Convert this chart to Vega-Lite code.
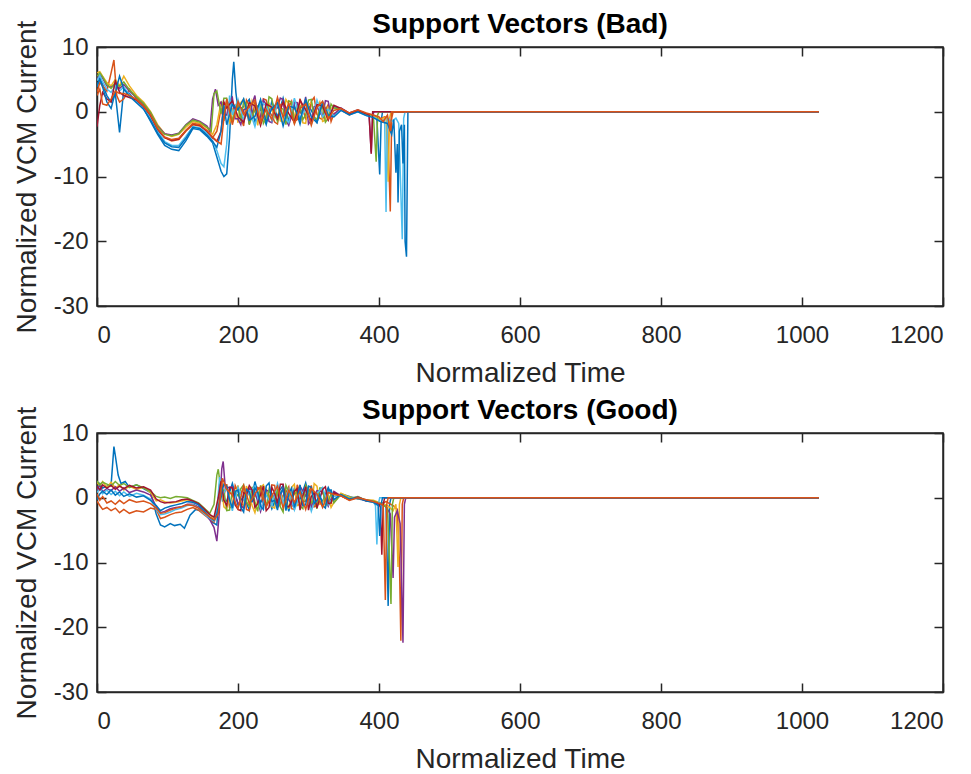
{
"$schema":"https://vega.github.io/schema/vega-lite/v6.json",
"padding":{"left":12,"top":10,"right":4,"bottom":0},
"spacing":8,
"config":{
"view":{"stroke":"#262626","strokeWidth":1.5},
"axis":{"domainColor":"#262626","domainWidth":1.5,"tickColor":"#262626","tickWidth":1.5,"tickSize":-9,"labelColor":"#262626","labelFont":"Liberation Sans","labelFontSize":24,"titleFont":"Liberation Sans","titleFontSize":28,"titleFontWeight":"normal","titleColor":"#262626","grid":false,"labelExpr":"'' + datum.value"}
},
"datasets":{
"bad":[
{"s":1,"x":0,"y":3.8},{"s":1,"x":4,"y":5.2},{"s":1,"x":8,"y":4.2},{"s":1,"x":14,"y":2.5},{"s":1,"x":20,"y":1.5},{"s":1,"x":26,"y":2.8},{"s":1,"x":32,"y":-3.2},{"s":1,"x":38,"y":3.5},{"s":1,"x":46,"y":2.8},{"s":1,"x":56,"y":1.5},{"s":1,"x":66,"y":0.5},{"s":1,"x":76,"y":-1.5},{"s":1,"x":86,"y":-3.5},{"s":1,"x":96,"y":-5.2},{"s":1,"x":106,"y":-5.8},{"s":1,"x":116,"y":-6},{"s":1,"x":126,"y":-4.5},{"s":1,"x":136,"y":-2.6},{"s":1,"x":146,"y":-2.8},{"s":1,"x":156,"y":-3.8},{"s":1,"x":164,"y":-4.8},{"s":1,"x":170,"y":-7},{"s":1,"x":176,"y":-9.2},{"s":1,"x":180,"y":-10},{"s":1,"x":184,"y":-9.6},{"s":1,"x":188,"y":-4},{"s":1,"x":192,"y":5},{"s":1,"x":194,"y":7.7},{"s":1,"x":197,"y":3},{"s":1,"x":200,"y":0.3},{"s":1,"x":208,"y":0.8},{"s":1,"x":216,"y":1.9},{"s":1,"x":224,"y":-1.5},{"s":1,"x":232,"y":0.5},{"s":1,"x":240,"y":-2.0},{"s":1,"x":248,"y":1.6},{"s":1,"x":256,"y":-0.8},{"s":1,"x":264,"y":2.1},{"s":1,"x":272,"y":-1.4},{"s":1,"x":280,"y":1.0},{"s":1,"x":288,"y":-1.9},{"s":1,"x":296,"y":1.7},{"s":1,"x":304,"y":0.2},{"s":1,"x":312,"y":-1.6},{"s":1,"x":320,"y":1.3},{"s":1,"x":328,"y":-0.9},{"s":1,"x":336,"y":0.8},{"s":1,"x":346,"y":0.4},{"s":1,"x":358,"y":-0.3},{"s":1,"x":370,"y":0.1},{"s":1,"x":382,"y":-0.4},{"s":1,"x":392,"y":-0.5},{"s":1,"x":397,"y":-1},{"s":1,"x":401,"y":-9.7},{"s":1,"x":403,"y":-1.5},{"s":1,"x":405,"y":0},{"s":1,"x":1024,"y":0},
{"s":2,"x":0,"y":3},{"s":2,"x":4,"y":4.5},{"s":2,"x":8,"y":4},{"s":2,"x":14,"y":3.2},{"s":2,"x":20,"y":6},{"s":2,"x":24,"y":8},{"s":2,"x":28,"y":2.5},{"s":2,"x":32,"y":1.5},{"s":2,"x":38,"y":2},{"s":2,"x":46,"y":3.5},{"s":2,"x":56,"y":2},{"s":2,"x":66,"y":1},{"s":2,"x":76,"y":-0.8},{"s":2,"x":86,"y":-2.8},{"s":2,"x":96,"y":-4},{"s":2,"x":106,"y":-4.5},{"s":2,"x":116,"y":-4.3},{"s":2,"x":126,"y":-3},{"s":2,"x":136,"y":-2},{"s":2,"x":146,"y":-2.2},{"s":2,"x":156,"y":-3},{"s":2,"x":164,"y":-4},{"s":2,"x":170,"y":-3},{"s":2,"x":176,"y":0.5},{"s":2,"x":184,"y":1.8},{"s":2,"x":192,"y":-1.6},{"s":2,"x":200,"y":1.2},{"s":2,"x":208,"y":-2.2},{"s":2,"x":216,"y":0.9},{"s":2,"x":224,"y":1.5},{"s":2,"x":232,"y":-1.3},{"s":2,"x":240,"y":1.8},{"s":2,"x":248,"y":-0.6},{"s":2,"x":256,"y":-1.9},{"s":2,"x":264,"y":1.4},{"s":2,"x":272,"y":0.7},{"s":2,"x":280,"y":-1.5},{"s":2,"x":288,"y":2.0},{"s":2,"x":296,"y":-1.1},{"s":2,"x":304,"y":1.6},{"s":2,"x":312,"y":-0.4},{"s":2,"x":320,"y":-1.2},{"s":2,"x":328,"y":1.1},{"s":2,"x":336,"y":-0.3},{"s":2,"x":346,"y":0.3},{"s":2,"x":358,"y":-0.5},{"s":2,"x":370,"y":0.2},{"s":2,"x":382,"y":-0.3},{"s":2,"x":392,"y":-0.6},{"s":2,"x":400,"y":-1.2},{"s":2,"x":408,"y":-0.8},{"s":2,"x":412,"y":-1},{"s":2,"x":416,"y":-15.4},{"s":2,"x":418,"y":-1},{"s":2,"x":420,"y":0},{"s":2,"x":1024,"y":0},
{"s":2,"x":180,"y":-1.4},{"s":2,"x":188,"y":0.7},{"s":2,"x":196,"y":0.2},{"s":2,"x":204,"y":-0.9},{"s":2,"x":212,"y":1.8},{"s":2,"x":220,"y":-1.2},{"s":2,"x":228,"y":-0.3},{"s":2,"x":236,"y":2.0},{"s":2,"x":244,"y":0.1},{"s":2,"x":252,"y":-1.6},{"s":2,"x":260,"y":1.0},{"s":2,"x":268,"y":-0.5},{"s":2,"x":276,"y":1.6},{"s":2,"x":284,"y":-1.2},{"s":2,"x":292,"y":0.4},{"s":2,"x":300,"y":-0.7},{"s":2,"x":308,"y":2.2},{"s":2,"x":316,"y":-1.0},{"s":2,"x":324,"y":0.3},{"s":2,"x":332,"y":-1.5},
{"s":3,"x":0,"y":6},{"s":3,"x":4,"y":6.2},{"s":3,"x":8,"y":5.5},{"s":3,"x":14,"y":4.5},{"s":3,"x":20,"y":4},{"s":3,"x":26,"y":5},{"s":3,"x":32,"y":4},{"s":3,"x":38,"y":5.5},{"s":3,"x":46,"y":4},{"s":3,"x":56,"y":2.5},{"s":3,"x":66,"y":1.5},{"s":3,"x":76,"y":0},{"s":3,"x":86,"y":-2},{"s":3,"x":96,"y":-3.4},{"s":3,"x":106,"y":-3.8},{"s":3,"x":116,"y":-3.5},{"s":3,"x":126,"y":-2.4},{"s":3,"x":136,"y":-1.5},{"s":3,"x":146,"y":-1.8},{"s":3,"x":156,"y":-2.5},{"s":3,"x":164,"y":-3.5},{"s":3,"x":170,"y":-2},{"s":3,"x":176,"y":1.5},{"s":3,"x":184,"y":1.3},{"s":3,"x":192,"y":0.4},{"s":3,"x":200,"y":-1.7},{"s":3,"x":208,"y":1.9},{"s":3,"x":216,"y":-0.9},{"s":3,"x":224,"y":0.6},{"s":3,"x":232,"y":1.7},{"s":3,"x":240,"y":-1.4},{"s":3,"x":248,"y":0.3},{"s":3,"x":256,"y":1.8},{"s":3,"x":264,"y":-1.6},{"s":3,"x":272,"y":1.2},{"s":3,"x":280,"y":-0.7},{"s":3,"x":288,"y":0.9},{"s":3,"x":296,"y":-1.8},{"s":3,"x":304,"y":1.4},{"s":3,"x":312,"y":0.6},{"s":3,"x":320,"y":-1.5},{"s":3,"x":328,"y":0.8},{"s":3,"x":336,"y":0.5},{"s":3,"x":346,"y":0.5},{"s":3,"x":358,"y":-0.2},{"s":3,"x":370,"y":0.2},{"s":3,"x":382,"y":-0.5},{"s":3,"x":392,"y":-0.7},{"s":3,"x":402,"y":-1.2},{"s":3,"x":410,"y":-0.8},{"s":3,"x":413,"y":-10.8},{"s":3,"x":415,"y":-1},{"s":3,"x":417,"y":0},{"s":3,"x":1024,"y":0},
{"s":3,"x":180,"y":1.2},{"s":3,"x":188,"y":-1.9},{"s":3,"x":196,"y":0.8},{"s":3,"x":204,"y":1.4},{"s":3,"x":212,"y":-0.6},{"s":3,"x":220,"y":1.7},{"s":3,"x":228,"y":-2.1},{"s":3,"x":236,"y":0.2},{"s":3,"x":244,"y":1.3},{"s":3,"x":252,"y":-0.8},{"s":3,"x":260,"y":-1.4},{"s":3,"x":268,"y":1.9},{"s":3,"x":276,"y":-0.2},{"s":3,"x":284,"y":0.9},{"s":3,"x":292,"y":-1.7},{"s":3,"x":300,"y":1.1},{"s":3,"x":308,"y":-0.4},{"s":3,"x":316,"y":1.5},{"s":3,"x":324,"y":-1.3},{"s":3,"x":332,"y":0.6},
{"s":4,"x":0,"y":5},{"s":4,"x":4,"y":5.8},{"s":4,"x":8,"y":5.2},{"s":4,"x":14,"y":4},{"s":4,"x":20,"y":3.8},{"s":4,"x":26,"y":4.2},{"s":4,"x":32,"y":3.6},{"s":4,"x":38,"y":4.2},{"s":4,"x":46,"y":3.2},{"s":4,"x":56,"y":2.2},{"s":4,"x":66,"y":1.2},{"s":4,"x":76,"y":-0.2},{"s":4,"x":86,"y":-2.2},{"s":4,"x":96,"y":-3.4},{"s":4,"x":106,"y":-3.6},{"s":4,"x":116,"y":-3.3},{"s":4,"x":126,"y":-2},{"s":4,"x":136,"y":-1.1},{"s":4,"x":146,"y":-1.5},{"s":4,"x":156,"y":-2.2},{"s":4,"x":160,"y":-3},{"s":4,"x":164,"y":2},{"s":4,"x":168,"y":3.5},{"s":4,"x":172,"y":1},{"s":4,"x":176,"y":1.5},{"s":4,"x":184,"y":-0.5},{"s":4,"x":192,"y":2.2},{"s":4,"x":200,"y":-1.1},{"s":4,"x":208,"y":0.3},{"s":4,"x":216,"y":-1.9},{"s":4,"x":224,"y":2.5},{"s":4,"x":232,"y":-0.8},{"s":4,"x":240,"y":1.1},{"s":4,"x":248,"y":-1.7},{"s":4,"x":256,"y":0.6},{"s":4,"x":264,"y":1.9},{"s":4,"x":272,"y":-2.1},{"s":4,"x":280,"y":1.5},{"s":4,"x":288,"y":-0.2},{"s":4,"x":296,"y":2.3},{"s":4,"x":304,"y":-1.3},{"s":4,"x":312,"y":0.9},{"s":4,"x":320,"y":-0.6},{"s":4,"x":328,"y":1.6},{"s":4,"x":336,"y":-0.4},{"s":4,"x":346,"y":0.6},{"s":4,"x":358,"y":-0.2},{"s":4,"x":370,"y":0.3},{"s":4,"x":382,"y":-0.4},{"s":4,"x":386,"y":-0.6},{"s":4,"x":389,"y":-6.3},{"s":4,"x":391,"y":-0.5},{"s":4,"x":393,"y":0},{"s":4,"x":1024,"y":0},
{"s":4,"x":180,"y":-0.4},{"s":4,"x":188,"y":1.6},{"s":4,"x":196,"y":-1.1},{"s":4,"x":204,"y":-2.0},{"s":4,"x":212,"y":0.5},{"s":4,"x":220,"y":1.2},{"s":4,"x":228,"y":-0.9},{"s":4,"x":236,"y":1.8},{"s":4,"x":244,"y":-1.5},{"s":4,"x":252,"y":0.7},{"s":4,"x":260,"y":2.1},{"s":4,"x":268,"y":-1.3},{"s":4,"x":276,"y":-0.6},{"s":4,"x":284,"y":1.4},{"s":4,"x":292,"y":0.3},{"s":4,"x":300,"y":-1.9},{"s":4,"x":308,"y":0.8},{"s":4,"x":316,"y":-0.2},{"s":4,"x":324,"y":1.7},{"s":4,"x":332,"y":-0.8},
{"s":5,"x":0,"y":5.5},{"s":5,"x":4,"y":6},{"s":5,"x":8,"y":5.4},{"s":5,"x":14,"y":4.2},{"s":5,"x":20,"y":3.6},{"s":5,"x":26,"y":4.5},{"s":5,"x":32,"y":3.9},{"s":5,"x":38,"y":4.6},{"s":5,"x":46,"y":3.4},{"s":5,"x":56,"y":2.3},{"s":5,"x":66,"y":1.3},{"s":5,"x":76,"y":-0.1},{"s":5,"x":86,"y":-2.3},{"s":5,"x":96,"y":-3.5},{"s":5,"x":106,"y":-3.7},{"s":5,"x":116,"y":-3.4},{"s":5,"x":126,"y":-2.1},{"s":5,"x":136,"y":-1.3},{"s":5,"x":146,"y":-1.6},{"s":5,"x":156,"y":-2.4},{"s":5,"x":162,"y":-3},{"s":5,"x":166,"y":2.8},{"s":5,"x":170,"y":3.2},{"s":5,"x":176,"y":-0.3},{"s":5,"x":184,"y":2.1},{"s":5,"x":192,"y":-1.4},{"s":5,"x":200,"y":0.9},{"s":5,"x":208,"y":1.6},{"s":5,"x":216,"y":-2.0},{"s":5,"x":224,"y":0.2},{"s":5,"x":232,"y":1.3},{"s":5,"x":240,"y":-0.9},{"s":5,"x":248,"y":2.0},{"s":5,"x":256,"y":-1.5},{"s":5,"x":264,"y":0.4},{"s":5,"x":272,"y":1.7},{"s":5,"x":280,"y":-1.8},{"s":5,"x":288,"y":0.8},{"s":5,"x":296,"y":-0.5},{"s":5,"x":304,"y":1.9},{"s":5,"x":312,"y":-1.2},{"s":5,"x":320,"y":0.7},{"s":5,"x":328,"y":-1.0},{"s":5,"x":336,"y":0.6},{"s":5,"x":346,"y":0.4},{"s":5,"x":358,"y":-0.3},{"s":5,"x":370,"y":0.1},{"s":5,"x":382,"y":-0.5},{"s":5,"x":392,"y":-0.6},{"s":5,"x":396,"y":-7.7},{"s":5,"x":398,"y":-0.5},{"s":5,"x":400,"y":0},{"s":5,"x":1024,"y":0},
{"s":5,"x":180,"y":2.1},{"s":5,"x":188,"y":-0.3},{"s":5,"x":196,"y":1.0},{"s":5,"x":204,"y":-1.5},{"s":5,"x":212,"y":1.3},{"s":5,"x":220,"y":-0.7},{"s":5,"x":228,"y":0.9},{"s":5,"x":236,"y":-1.8},{"s":5,"x":244,"y":2.3},{"s":5,"x":252,"y":-0.4},{"s":5,"x":260,"y":0.6},{"s":5,"x":268,"y":-2.0},{"s":5,"x":276,"y":1.5},{"s":5,"x":284,"y":0.1},{"s":5,"x":292,"y":-1.2},{"s":5,"x":300,"y":1.8},{"s":5,"x":308,"y":-0.9},{"s":5,"x":316,"y":0.5},{"s":5,"x":324,"y":-1.6},{"s":5,"x":332,"y":1.2},
{"s":6,"x":0,"y":4.8},{"s":6,"x":4,"y":5.6},{"s":6,"x":8,"y":4.6},{"s":6,"x":14,"y":3.5},{"s":6,"x":20,"y":3},{"s":6,"x":26,"y":4},{"s":6,"x":32,"y":3.2},{"s":6,"x":38,"y":3.8},{"s":6,"x":46,"y":2.6},{"s":6,"x":56,"y":1.6},{"s":6,"x":66,"y":0.6},{"s":6,"x":76,"y":-1},{"s":6,"x":86,"y":-3},{"s":6,"x":96,"y":-4.6},{"s":6,"x":106,"y":-5.2},{"s":6,"x":116,"y":-5.2},{"s":6,"x":126,"y":-3.8},{"s":6,"x":136,"y":-2.3},{"s":6,"x":146,"y":-2.5},{"s":6,"x":156,"y":-3.3},{"s":6,"x":164,"y":-4.5},{"s":6,"x":170,"y":-6},{"s":6,"x":176,"y":-8},{"s":6,"x":180,"y":-8.5},{"s":6,"x":184,"y":-5},{"s":6,"x":188,"y":2.5},{"s":6,"x":192,"y":-0.5},{"s":6,"x":200,"y":1.9},{"s":6,"x":208,"y":-1.2},{"s":6,"x":216,"y":0.4},{"s":6,"x":224,"y":-2.3},{"s":6,"x":232,"y":1.6},{"s":6,"x":240,"y":0.9},{"s":6,"x":248,"y":-1.4},{"s":6,"x":256,"y":1.2},{"s":6,"x":264,"y":-0.6},{"s":6,"x":272,"y":-1.7},{"s":6,"x":280,"y":2.1},{"s":6,"x":288,"y":-1.0},{"s":6,"x":296,"y":0.5},{"s":6,"x":304,"y":-1.9},{"s":6,"x":312,"y":1.8},{"s":6,"x":320,"y":-0.8},{"s":6,"x":328,"y":0.4},{"s":6,"x":336,"y":-0.7},{"s":6,"x":346,"y":0.3},{"s":6,"x":358,"y":-0.4},{"s":6,"x":370,"y":0},{"s":6,"x":382,"y":-0.6},{"s":6,"x":392,"y":-0.8},{"s":6,"x":402,"y":-1.5},{"s":6,"x":408,"y":-1.2},{"s":6,"x":410,"y":-15.5},{"s":6,"x":412,"y":-1},{"s":6,"x":418,"y":-1.5},{"s":6,"x":424,"y":-1},{"s":6,"x":428,"y":-1.8},{"s":6,"x":433,"y":-19.7},{"s":6,"x":435,"y":-1},{"s":6,"x":437,"y":0},{"s":6,"x":1024,"y":0},
{"s":7,"x":0,"y":-2.3},{"s":7,"x":4,"y":1},{"s":7,"x":8,"y":3},{"s":7,"x":14,"y":2},{"s":7,"x":20,"y":1.5},{"s":7,"x":26,"y":4.8},{"s":7,"x":32,"y":3},{"s":7,"x":38,"y":2.5},{"s":7,"x":46,"y":2.2},{"s":7,"x":56,"y":1.8},{"s":7,"x":66,"y":0.8},{"s":7,"x":76,"y":-0.6},{"s":7,"x":86,"y":-2.7},{"s":7,"x":96,"y":-4},{"s":7,"x":106,"y":-4.4},{"s":7,"x":116,"y":-4.2},{"s":7,"x":126,"y":-2.9},{"s":7,"x":136,"y":-1.9},{"s":7,"x":146,"y":-2.1},{"s":7,"x":156,"y":-3},{"s":7,"x":164,"y":-4},{"s":7,"x":170,"y":-4.6},{"s":7,"x":176,"y":-3},{"s":7,"x":180,"y":1.5},{"s":7,"x":184,"y":0.6},{"s":7,"x":192,"y":1.7},{"s":7,"x":200,"y":-0.8},{"s":7,"x":208,"y":-1.6},{"s":7,"x":216,"y":1.4},{"s":7,"x":224,"y":0.9},{"s":7,"x":232,"y":-2.1},{"s":7,"x":240,"y":1.2},{"s":7,"x":248,"y":0.7},{"s":7,"x":256,"y":-1.1},{"s":7,"x":264,"y":1.5},{"s":7,"x":272,"y":-0.3},{"s":7,"x":280,"y":-1.6},{"s":7,"x":288,"y":1.8},{"s":7,"x":296,"y":0.3},{"s":7,"x":304,"y":-1.4},{"s":7,"x":312,"y":1.1},{"s":7,"x":320,"y":0.9},{"s":7,"x":328,"y":-1.3},{"s":7,"x":336,"y":1.0},{"s":7,"x":346,"y":0.5},{"s":7,"x":358,"y":-0.3},{"s":7,"x":370,"y":0.2},{"s":7,"x":382,"y":-0.3},{"s":7,"x":386,"y":-0.5},{"s":7,"x":389,"y":-6.5},{"s":7,"x":391,"y":0},{"s":7,"x":1024,"y":0},
{"s":8,"x":0,"y":4.2},{"s":8,"x":4,"y":5},{"s":8,"x":8,"y":3.8},{"s":8,"x":14,"y":1.5},{"s":8,"x":20,"y":0.5},{"s":8,"x":26,"y":3},{"s":8,"x":32,"y":5.5},{"s":8,"x":38,"y":3.5},{"s":8,"x":46,"y":2.4},{"s":8,"x":56,"y":1.4},{"s":8,"x":66,"y":0.4},{"s":8,"x":76,"y":-1.3},{"s":8,"x":86,"y":-3.3},{"s":8,"x":96,"y":-4.8},{"s":8,"x":106,"y":-5.4},{"s":8,"x":116,"y":-5.5},{"s":8,"x":126,"y":-4.1},{"s":8,"x":136,"y":-2.4},{"s":8,"x":146,"y":-2.6},{"s":8,"x":156,"y":-3.6},{"s":8,"x":164,"y":-4.6},{"s":8,"x":170,"y":-5.5},{"s":8,"x":176,"y":-3},{"s":8,"x":180,"y":1},{"s":8,"x":184,"y":-2.0},{"s":8,"x":192,"y":1.1},{"s":8,"x":200,"y":0.3},{"s":8,"x":208,"y":2.0},{"s":8,"x":216,"y":-1.3},{"s":8,"x":224,"y":-0.7},{"s":8,"x":232,"y":1.9},{"s":8,"x":240,"y":-1.6},{"s":8,"x":248,"y":0.5},{"s":8,"x":256,"y":1.4},{"s":8,"x":264,"y":-2.2},{"s":8,"x":272,"y":0.9},{"s":8,"x":280,"y":0.6},{"s":8,"x":288,"y":-1.3},{"s":8,"x":296,"y":1.9},{"s":8,"x":304,"y":-0.8},{"s":8,"x":312,"y":-1.7},{"s":8,"x":320,"y":1.5},{"s":8,"x":328,"y":-0.5},{"s":8,"x":336,"y":-0.8},{"s":8,"x":346,"y":0.2},{"s":8,"x":358,"y":-0.5},{"s":8,"x":370,"y":0},{"s":8,"x":382,"y":-0.6},{"s":8,"x":392,"y":-0.9},{"s":8,"x":402,"y":-1.5},{"s":8,"x":412,"y":-1.8},{"s":8,"x":418,"y":-3.5},{"s":8,"x":421,"y":-1.2},{"s":8,"x":424,"y":-9.4},{"s":8,"x":426,"y":-5},{"s":8,"x":427,"y":-14},{"s":8,"x":429,"y":-3},{"s":8,"x":432,"y":-2},{"s":8,"x":434,"y":-8},{"s":8,"x":436,"y":-2},{"s":8,"x":437,"y":-20},{"s":8,"x":439,"y":-22.4},{"s":8,"x":441,"y":0},{"s":8,"x":1024,"y":0},
{"s":9,"x":0,"y":2.5},{"s":9,"x":4,"y":3.5},{"s":9,"x":8,"y":1.2},{"s":9,"x":14,"y":1},{"s":9,"x":20,"y":2},{"s":9,"x":26,"y":3.2},{"s":9,"x":32,"y":2.8},{"s":9,"x":38,"y":2.8},{"s":9,"x":46,"y":2.5},{"s":9,"x":56,"y":1.9},{"s":9,"x":66,"y":0.9},{"s":9,"x":76,"y":-0.5},{"s":9,"x":86,"y":-2.6},{"s":9,"x":96,"y":-3.9},{"s":9,"x":106,"y":-4.3},{"s":9,"x":116,"y":-4.1},{"s":9,"x":126,"y":-2.9},{"s":9,"x":136,"y":-1.8},{"s":9,"x":146,"y":-2},{"s":9,"x":156,"y":-2.9},{"s":9,"x":164,"y":-3.9},{"s":9,"x":170,"y":-4.5},{"s":9,"x":176,"y":-5},{"s":9,"x":180,"y":-1},{"s":9,"x":184,"y":2},{"s":9,"x":192,"y":-2.0},{"s":9,"x":200,"y":1.6},{"s":9,"x":208,"y":-0.4},{"s":9,"x":216,"y":0.8},{"s":9,"x":224,"y":1.8},{"s":9,"x":232,"y":-1.7},{"s":9,"x":240,"y":0.4},{"s":9,"x":248,"y":-1.2},{"s":9,"x":256,"y":2.2},{"s":9,"x":264,"y":-0.9},{"s":9,"x":272,"y":1.3},{"s":9,"x":280,"y":-1.9},{"s":9,"x":288,"y":0.5},{"s":9,"x":296,"y":1.2},{"s":9,"x":304,"y":-2.1},{"s":9,"x":312,"y":0.7},{"s":9,"x":320,"y":1.6},{"s":9,"x":328,"y":-1.1},{"s":9,"x":336,"y":0.2},{"s":9,"x":346,"y":0.5},{"s":9,"x":358,"y":-0.2},{"s":9,"x":370,"y":0.3},{"s":9,"x":382,"y":-0.2},{"s":9,"x":392,"y":-0.5},{"s":9,"x":400,"y":-0.8},{"s":9,"x":406,"y":-1.5},{"s":9,"x":412,"y":-0.5},{"s":9,"x":416,"y":-3},{"s":9,"x":418,"y":0},{"s":9,"x":1024,"y":0}
],
"good":[
{"s":1,"x":0,"y":1.5},{"s":1,"x":4,"y":2.2},{"s":1,"x":8,"y":1.5},{"s":1,"x":14,"y":1.8},{"s":1,"x":20,"y":2},{"s":1,"x":24,"y":7.9},{"s":1,"x":26,"y":6.5},{"s":1,"x":30,"y":3.5},{"s":1,"x":34,"y":2.2},{"s":1,"x":40,"y":2.5},{"s":1,"x":46,"y":1.6},{"s":1,"x":56,"y":2.0},{"s":1,"x":66,"y":1.4},{"s":1,"x":76,"y":0.8},{"s":1,"x":84,"y":-2.5},{"s":1,"x":90,"y":-4.2},{"s":1,"x":96,"y":-4.5},{"s":1,"x":104,"y":-4},{"s":1,"x":110,"y":-4.3},{"s":1,"x":118,"y":-4.1},{"s":1,"x":124,"y":-4.7},{"s":1,"x":132,"y":-2.7},{"s":1,"x":140,"y":-1.8},{"s":1,"x":148,"y":-2},{"s":1,"x":156,"y":-2.8},{"s":1,"x":164,"y":-3.8},{"s":1,"x":170,"y":-4.2},{"s":1,"x":174,"y":2.2},{"s":1,"x":178,"y":-0.5},{"s":1,"x":184,"y":-0.5},{"s":1,"x":192,"y":2.2},{"s":1,"x":200,"y":-1.1},{"s":1,"x":208,"y":0.3},{"s":1,"x":216,"y":-1.9},{"s":1,"x":224,"y":2.5},{"s":1,"x":232,"y":-0.8},{"s":1,"x":240,"y":1.1},{"s":1,"x":248,"y":-1.7},{"s":1,"x":256,"y":0.6},{"s":1,"x":264,"y":1.9},{"s":1,"x":272,"y":-2.1},{"s":1,"x":280,"y":1.5},{"s":1,"x":288,"y":-0.2},{"s":1,"x":296,"y":2.3},{"s":1,"x":304,"y":-1.3},{"s":1,"x":312,"y":0.9},{"s":1,"x":320,"y":-0.6},{"s":1,"x":328,"y":1.6},{"s":1,"x":336,"y":-0.4},{"s":1,"x":346,"y":0.6},{"s":1,"x":358,"y":0.2},{"s":1,"x":370,"y":-0.2},{"s":1,"x":382,"y":-0.4},{"s":1,"x":392,"y":-0.5},{"s":1,"x":400,"y":-1},{"s":1,"x":406,"y":-0.8},{"s":1,"x":410,"y":-1.5},{"s":1,"x":413,"y":-16.7},{"s":1,"x":415,"y":-1},{"s":1,"x":417,"y":0},{"s":1,"x":1024,"y":0},
{"s":2,"x":0,"y":-0.5},{"s":2,"x":4,"y":-1.2},{"s":2,"x":8,"y":-1.8},{"s":2,"x":14,"y":-1.5},{"s":2,"x":20,"y":-2},{"s":2,"x":26,"y":-1.6},{"s":2,"x":32,"y":-2.3},{"s":2,"x":38,"y":-1.8},{"s":2,"x":46,"y":-2.4},{"s":2,"x":56,"y":-2.0},{"s":2,"x":66,"y":-2.2},{"s":2,"x":76,"y":-1.6},{"s":2,"x":84,"y":-1.8},{"s":2,"x":90,"y":-3.2},{"s":2,"x":96,"y":-3},{"s":2,"x":104,"y":-2.6},{"s":2,"x":112,"y":-2.3},{"s":2,"x":120,"y":-2.2},{"s":2,"x":128,"y":-1.8},{"s":2,"x":136,"y":-1.5},{"s":2,"x":144,"y":-1.9},{"s":2,"x":152,"y":-2.6},{"s":2,"x":160,"y":-3.3},{"s":2,"x":166,"y":-3.8},{"s":2,"x":172,"y":-2},{"s":2,"x":176,"y":2.8},{"s":2,"x":184,"y":2.1},{"s":2,"x":192,"y":-1.4},{"s":2,"x":200,"y":0.9},{"s":2,"x":208,"y":1.6},{"s":2,"x":216,"y":-2.0},{"s":2,"x":224,"y":0.2},{"s":2,"x":232,"y":1.3},{"s":2,"x":240,"y":-0.9},{"s":2,"x":248,"y":2.0},{"s":2,"x":256,"y":-1.5},{"s":2,"x":264,"y":0.4},{"s":2,"x":272,"y":1.7},{"s":2,"x":280,"y":-1.8},{"s":2,"x":288,"y":0.8},{"s":2,"x":296,"y":-0.5},{"s":2,"x":304,"y":1.9},{"s":2,"x":312,"y":-1.2},{"s":2,"x":320,"y":0.7},{"s":2,"x":328,"y":-1.0},{"s":2,"x":336,"y":0.6},{"s":2,"x":346,"y":0.4},{"s":2,"x":358,"y":-0.2},{"s":2,"x":370,"y":0.1},{"s":2,"x":382,"y":-0.5},{"s":2,"x":392,"y":-0.6},{"s":2,"x":402,"y":-1},{"s":2,"x":410,"y":-0.6},{"s":2,"x":420,"y":-1.2},{"s":2,"x":426,"y":-1.8},{"s":2,"x":429,"y":-10},{"s":2,"x":431,"y":-22.1},{"s":2,"x":433,"y":-1},{"s":2,"x":435,"y":0},{"s":2,"x":1024,"y":0},
{"s":2,"x":180,"y":0.3},{"s":2,"x":188,"y":-1.5},{"s":2,"x":196,"y":1.9},{"s":2,"x":204,"y":0.6},{"s":2,"x":212,"y":-1.8},{"s":2,"x":220,"y":0.4},{"s":2,"x":228,"y":1.6},{"s":2,"x":236,"y":-1.1},{"s":2,"x":244,"y":-0.5},{"s":2,"x":252,"y":1.9},{"s":2,"x":260,"y":-1.0},{"s":2,"x":268,"y":0.8},{"s":2,"x":276,"y":-1.7},{"s":2,"x":284,"y":2.0},{"s":2,"x":292,"y":-0.6},{"s":2,"x":300,"y":0.7},{"s":2,"x":308,"y":-1.4},{"s":2,"x":316,"y":1.3},{"s":2,"x":324,"y":0.2},{"s":2,"x":332,"y":-0.9},
{"s":3,"x":0,"y":2.4},{"s":3,"x":4,"y":1.8},{"s":3,"x":8,"y":2.5},{"s":3,"x":14,"y":1.6},{"s":3,"x":20,"y":2.4},{"s":3,"x":26,"y":1.5},{"s":3,"x":32,"y":2.0},{"s":3,"x":38,"y":1.2},{"s":3,"x":46,"y":1.8},{"s":3,"x":56,"y":1.3},{"s":3,"x":66,"y":1.6},{"s":3,"x":76,"y":0.8},{"s":3,"x":84,"y":-0.5},{"s":3,"x":90,"y":-0.3},{"s":3,"x":96,"y":-0.6},{"s":3,"x":104,"y":-0.8},{"s":3,"x":112,"y":-0.7},{"s":3,"x":120,"y":-0.5},{"s":3,"x":128,"y":-0.3},{"s":3,"x":136,"y":-0.6},{"s":3,"x":144,"y":-1.0},{"s":3,"x":152,"y":-1.8},{"s":3,"x":160,"y":-2.6},{"s":3,"x":166,"y":-3.2},{"s":3,"x":172,"y":-1},{"s":3,"x":176,"y":2.5},{"s":3,"x":184,"y":-1.8},{"s":3,"x":192,"y":0.7},{"s":3,"x":200,"y":1.9},{"s":3,"x":208,"y":-1.2},{"s":3,"x":216,"y":0.4},{"s":3,"x":224,"y":-2.3},{"s":3,"x":232,"y":1.6},{"s":3,"x":240,"y":0.9},{"s":3,"x":248,"y":-1.4},{"s":3,"x":256,"y":1.2},{"s":3,"x":264,"y":-0.6},{"s":3,"x":272,"y":-1.7},{"s":3,"x":280,"y":2.1},{"s":3,"x":288,"y":-1.0},{"s":3,"x":296,"y":0.5},{"s":3,"x":304,"y":-1.9},{"s":3,"x":312,"y":1.8},{"s":3,"x":320,"y":-0.8},{"s":3,"x":328,"y":0.4},{"s":3,"x":336,"y":-0.7},{"s":3,"x":346,"y":0.7},{"s":3,"x":358,"y":0.1},{"s":3,"x":370,"y":-0.1},{"s":3,"x":382,"y":-0.3},{"s":3,"x":392,"y":-0.4},{"s":3,"x":402,"y":-0.8},{"s":3,"x":412,"y":-1.2},{"s":3,"x":420,"y":-2},{"s":3,"x":424,"y":-1},{"s":3,"x":427,"y":-10.7},{"s":3,"x":429,"y":-1},{"s":3,"x":431,"y":0},{"s":3,"x":1024,"y":0},
{"s":3,"x":180,"y":-1.4},{"s":3,"x":188,"y":0.7},{"s":3,"x":196,"y":0.2},{"s":3,"x":204,"y":-0.9},{"s":3,"x":212,"y":1.8},{"s":3,"x":220,"y":-1.2},{"s":3,"x":228,"y":-0.3},{"s":3,"x":236,"y":2.0},{"s":3,"x":244,"y":0.1},{"s":3,"x":252,"y":-1.6},{"s":3,"x":260,"y":1.0},{"s":3,"x":268,"y":-0.5},{"s":3,"x":276,"y":1.6},{"s":3,"x":284,"y":-1.2},{"s":3,"x":292,"y":0.4},{"s":3,"x":300,"y":-0.7},{"s":3,"x":308,"y":2.2},{"s":3,"x":316,"y":-1.0},{"s":3,"x":324,"y":0.3},{"s":3,"x":332,"y":-1.5},
{"s":4,"x":0,"y":1.2},{"s":4,"x":4,"y":1.9},{"s":4,"x":8,"y":0.9},{"s":4,"x":14,"y":1.4},{"s":4,"x":20,"y":1.1},{"s":4,"x":26,"y":1.7},{"s":4,"x":32,"y":1.0},{"s":4,"x":38,"y":1.5},{"s":4,"x":46,"y":0.8},{"s":4,"x":56,"y":1.2},{"s":4,"x":66,"y":0.9},{"s":4,"x":76,"y":0.4},{"s":4,"x":84,"y":-1.4},{"s":4,"x":90,"y":-2.3},{"s":4,"x":96,"y":-2.1},{"s":4,"x":104,"y":-1.7},{"s":4,"x":112,"y":-1.5},{"s":4,"x":120,"y":-1.4},{"s":4,"x":128,"y":-1.0},{"s":4,"x":136,"y":-1.0},{"s":4,"x":144,"y":-1.4},{"s":4,"x":152,"y":-2.2},{"s":4,"x":160,"y":-3.4},{"s":4,"x":166,"y":-4.6},{"s":4,"x":170,"y":-6.7},{"s":4,"x":173,"y":-3},{"s":4,"x":177,"y":4.5},{"s":4,"x":179,"y":5.6},{"s":4,"x":182,"y":1.5},{"s":4,"x":192,"y":1.7},{"s":4,"x":200,"y":-0.8},{"s":4,"x":208,"y":-1.6},{"s":4,"x":216,"y":1.4},{"s":4,"x":224,"y":0.9},{"s":4,"x":232,"y":-2.1},{"s":4,"x":240,"y":1.2},{"s":4,"x":248,"y":0.7},{"s":4,"x":256,"y":-1.1},{"s":4,"x":264,"y":1.5},{"s":4,"x":272,"y":-0.3},{"s":4,"x":280,"y":-1.6},{"s":4,"x":288,"y":1.8},{"s":4,"x":296,"y":0.3},{"s":4,"x":304,"y":-1.4},{"s":4,"x":312,"y":1.1},{"s":4,"x":320,"y":0.9},{"s":4,"x":328,"y":-1.3},{"s":4,"x":336,"y":1.0},{"s":4,"x":346,"y":0.3},{"s":4,"x":358,"y":-0.3},{"s":4,"x":370,"y":0},{"s":4,"x":382,"y":-0.5},{"s":4,"x":392,"y":-0.6},{"s":4,"x":402,"y":-0.9},{"s":4,"x":410,"y":-1.4},{"s":4,"x":416,"y":-2.5},{"s":4,"x":420,"y":-12.4},{"s":4,"x":422,"y":-3},{"s":4,"x":426,"y":-2},{"s":4,"x":430,"y":-4},{"s":4,"x":434,"y":-22.4},{"s":4,"x":436,"y":-1},{"s":4,"x":438,"y":0},{"s":4,"x":1024,"y":0},
{"s":5,"x":0,"y":2.6},{"s":5,"x":4,"y":2.0},{"s":5,"x":8,"y":2.4},{"s":5,"x":14,"y":2.1},{"s":5,"x":20,"y":1.8},{"s":5,"x":26,"y":2.5},{"s":5,"x":32,"y":1.9},{"s":5,"x":38,"y":2.2},{"s":5,"x":46,"y":1.6},{"s":5,"x":56,"y":2.0},{"s":5,"x":66,"y":1.5},{"s":5,"x":76,"y":1.0},{"s":5,"x":84,"y":0.2},{"s":5,"x":90,"y":0},{"s":5,"x":96,"y":0.1},{"s":5,"x":104,"y":-0.1},{"s":5,"x":112,"y":0.2},{"s":5,"x":120,"y":0.1},{"s":5,"x":128,"y":0},{"s":5,"x":136,"y":-0.4},{"s":5,"x":144,"y":-0.8},{"s":5,"x":152,"y":-1.6},{"s":5,"x":160,"y":-2.4},{"s":5,"x":166,"y":-1},{"s":5,"x":170,"y":3.5},{"s":5,"x":172,"y":4.4},{"s":5,"x":176,"y":1},{"s":5,"x":184,"y":-2.0},{"s":5,"x":192,"y":1.1},{"s":5,"x":200,"y":0.3},{"s":5,"x":208,"y":2.0},{"s":5,"x":216,"y":-1.3},{"s":5,"x":224,"y":-0.7},{"s":5,"x":232,"y":1.9},{"s":5,"x":240,"y":-1.6},{"s":5,"x":248,"y":0.5},{"s":5,"x":256,"y":1.4},{"s":5,"x":264,"y":-2.2},{"s":5,"x":272,"y":0.9},{"s":5,"x":280,"y":0.6},{"s":5,"x":288,"y":-1.3},{"s":5,"x":296,"y":1.9},{"s":5,"x":304,"y":-0.8},{"s":5,"x":312,"y":-1.7},{"s":5,"x":320,"y":1.5},{"s":5,"x":328,"y":-0.5},{"s":5,"x":336,"y":-0.8},{"s":5,"x":346,"y":0.5},{"s":5,"x":358,"y":-0.1},{"s":5,"x":370,"y":0.2},{"s":5,"x":382,"y":-0.4},{"s":5,"x":392,"y":-0.5},{"s":5,"x":404,"y":-1},{"s":5,"x":412,"y":-1.6},{"s":5,"x":417,"y":-16.4},{"s":5,"x":419,"y":-1},{"s":5,"x":421,"y":0},{"s":5,"x":1024,"y":0},
{"s":5,"x":180,"y":1.2},{"s":5,"x":188,"y":-1.9},{"s":5,"x":196,"y":0.8},{"s":5,"x":204,"y":1.4},{"s":5,"x":212,"y":-0.6},{"s":5,"x":220,"y":1.7},{"s":5,"x":228,"y":-2.1},{"s":5,"x":236,"y":0.2},{"s":5,"x":244,"y":1.3},{"s":5,"x":252,"y":-0.8},{"s":5,"x":260,"y":-1.4},{"s":5,"x":268,"y":1.9},{"s":5,"x":276,"y":-0.2},{"s":5,"x":284,"y":0.9},{"s":5,"x":292,"y":-1.7},{"s":5,"x":300,"y":1.1},{"s":5,"x":308,"y":-0.4},{"s":5,"x":316,"y":1.5},{"s":5,"x":324,"y":-1.3},{"s":5,"x":332,"y":0.6},
{"s":6,"x":0,"y":0.8},{"s":6,"x":4,"y":1.5},{"s":6,"x":8,"y":0.6},{"s":6,"x":14,"y":1.2},{"s":6,"x":20,"y":0.5},{"s":6,"x":26,"y":1.0},{"s":6,"x":32,"y":0.3},{"s":6,"x":38,"y":0.9},{"s":6,"x":46,"y":0.2},{"s":6,"x":56,"y":0.7},{"s":6,"x":66,"y":0.4},{"s":6,"x":76,"y":-0.2},{"s":6,"x":84,"y":-1.8},{"s":6,"x":90,"y":-2.6},{"s":6,"x":96,"y":-2.5},{"s":6,"x":104,"y":-2.2},{"s":6,"x":112,"y":-1.8},{"s":6,"x":120,"y":-1.6},{"s":6,"x":128,"y":-1.2},{"s":6,"x":136,"y":-1.1},{"s":6,"x":144,"y":-1.6},{"s":6,"x":152,"y":-2.5},{"s":6,"x":160,"y":-3.2},{"s":6,"x":166,"y":-3.6},{"s":6,"x":170,"y":-2},{"s":6,"x":174,"y":3.2},{"s":6,"x":178,"y":0.5},{"s":6,"x":184,"y":1.5},{"s":6,"x":192,"y":-2.0},{"s":6,"x":200,"y":1.6},{"s":6,"x":208,"y":-0.4},{"s":6,"x":216,"y":0.8},{"s":6,"x":224,"y":1.8},{"s":6,"x":232,"y":-1.7},{"s":6,"x":240,"y":0.4},{"s":6,"x":248,"y":-1.2},{"s":6,"x":256,"y":2.2},{"s":6,"x":264,"y":-0.9},{"s":6,"x":272,"y":1.3},{"s":6,"x":280,"y":-1.9},{"s":6,"x":288,"y":0.5},{"s":6,"x":296,"y":1.2},{"s":6,"x":304,"y":-2.1},{"s":6,"x":312,"y":0.7},{"s":6,"x":320,"y":1.6},{"s":6,"x":328,"y":-1.1},{"s":6,"x":336,"y":0.2},{"s":6,"x":346,"y":0.4},{"s":6,"x":358,"y":-0.2},{"s":6,"x":370,"y":0.1},{"s":6,"x":382,"y":-0.4},{"s":6,"x":392,"y":-0.6},{"s":6,"x":395,"y":-1.2},{"s":6,"x":397,"y":-7.2},{"s":6,"x":399,"y":-1},{"s":6,"x":401,"y":0},{"s":6,"x":1024,"y":0},
{"s":7,"x":0,"y":1.8},{"s":7,"x":4,"y":1.2},{"s":7,"x":8,"y":2.0},{"s":7,"x":14,"y":1.5},{"s":7,"x":20,"y":1.9},{"s":7,"x":26,"y":1.3},{"s":7,"x":32,"y":1.8},{"s":7,"x":38,"y":1.4},{"s":7,"x":46,"y":1.9},{"s":7,"x":56,"y":1.5},{"s":7,"x":66,"y":1.7},{"s":7,"x":76,"y":1.2},{"s":7,"x":84,"y":-0.2},{"s":7,"x":90,"y":-0.6},{"s":7,"x":96,"y":-0.8},{"s":7,"x":104,"y":-0.7},{"s":7,"x":112,"y":-0.6},{"s":7,"x":120,"y":-0.3},{"s":7,"x":128,"y":-0.2},{"s":7,"x":136,"y":-0.5},{"s":7,"x":144,"y":-0.9},{"s":7,"x":152,"y":-1.7},{"s":7,"x":160,"y":-2.6},{"s":7,"x":166,"y":-3},{"s":7,"x":172,"y":0},{"s":7,"x":176,"y":2.6},{"s":7,"x":184,"y":-1.2},{"s":7,"x":192,"y":1.5},{"s":7,"x":200,"y":-1.8},{"s":7,"x":208,"y":0.8},{"s":7,"x":216,"y":1.9},{"s":7,"x":224,"y":-1.5},{"s":7,"x":232,"y":0.5},{"s":7,"x":240,"y":-2.0},{"s":7,"x":248,"y":1.6},{"s":7,"x":256,"y":-0.8},{"s":7,"x":264,"y":2.1},{"s":7,"x":272,"y":-1.4},{"s":7,"x":280,"y":1.0},{"s":7,"x":288,"y":-1.9},{"s":7,"x":296,"y":1.7},{"s":7,"x":304,"y":0.2},{"s":7,"x":312,"y":-1.6},{"s":7,"x":320,"y":1.3},{"s":7,"x":328,"y":-0.9},{"s":7,"x":336,"y":0.8},{"s":7,"x":346,"y":0.3},{"s":7,"x":358,"y":-0.3},{"s":7,"x":370,"y":0.1},{"s":7,"x":382,"y":-0.4},{"s":7,"x":392,"y":-0.6},{"s":7,"x":400,"y":-1},{"s":7,"x":402,"y":-1.5},{"s":7,"x":404,"y":-8.8},{"s":7,"x":406,"y":-1},{"s":7,"x":408,"y":0},{"s":7,"x":1024,"y":0},
{"s":7,"x":180,"y":-0.4},{"s":7,"x":188,"y":1.6},{"s":7,"x":196,"y":-1.1},{"s":7,"x":204,"y":-2.0},{"s":7,"x":212,"y":0.5},{"s":7,"x":220,"y":1.2},{"s":7,"x":228,"y":-0.9},{"s":7,"x":236,"y":1.8},{"s":7,"x":244,"y":-1.5},{"s":7,"x":252,"y":0.7},{"s":7,"x":260,"y":2.1},{"s":7,"x":268,"y":-1.3},{"s":7,"x":276,"y":-0.6},{"s":7,"x":284,"y":1.4},{"s":7,"x":292,"y":0.3},{"s":7,"x":300,"y":-1.9},{"s":7,"x":308,"y":0.8},{"s":7,"x":316,"y":-0.2},{"s":7,"x":324,"y":1.7},{"s":7,"x":332,"y":-0.8},
{"s":8,"x":0,"y":-0.3},{"s":8,"x":4,"y":0.6},{"s":8,"x":8,"y":1.0},{"s":8,"x":14,"y":0.5},{"s":8,"x":20,"y":1.2},{"s":8,"x":26,"y":0.4},{"s":8,"x":32,"y":0.9},{"s":8,"x":38,"y":0.2},{"s":8,"x":46,"y":0.6},{"s":8,"x":56,"y":0.1},{"s":8,"x":66,"y":0.3},{"s":8,"x":76,"y":-0.4},{"s":8,"x":84,"y":-1.2},{"s":8,"x":90,"y":-2.0},{"s":8,"x":96,"y":-1.6},{"s":8,"x":104,"y":-1.3},{"s":8,"x":112,"y":-1.1},{"s":8,"x":120,"y":-0.9},{"s":8,"x":128,"y":-0.6},{"s":8,"x":136,"y":-0.7},{"s":8,"x":144,"y":-1.1},{"s":8,"x":152,"y":-2.0},{"s":8,"x":160,"y":-3.0},{"s":8,"x":166,"y":-3.5},{"s":8,"x":170,"y":-2.5},{"s":8,"x":176,"y":0.5},{"s":8,"x":184,"y":1.8},{"s":8,"x":192,"y":-1.6},{"s":8,"x":200,"y":1.2},{"s":8,"x":208,"y":-2.2},{"s":8,"x":216,"y":0.9},{"s":8,"x":224,"y":1.5},{"s":8,"x":232,"y":-1.3},{"s":8,"x":240,"y":1.8},{"s":8,"x":248,"y":-0.6},{"s":8,"x":256,"y":-1.9},{"s":8,"x":264,"y":1.4},{"s":8,"x":272,"y":0.7},{"s":8,"x":280,"y":-1.5},{"s":8,"x":288,"y":2.0},{"s":8,"x":296,"y":-1.1},{"s":8,"x":304,"y":1.6},{"s":8,"x":312,"y":-0.4},{"s":8,"x":320,"y":-1.2},{"s":8,"x":328,"y":1.1},{"s":8,"x":336,"y":-0.3},{"s":8,"x":346,"y":0.5},{"s":8,"x":358,"y":-0.2},{"s":8,"x":370,"y":0},{"s":8,"x":382,"y":-0.5},{"s":8,"x":392,"y":-0.7},{"s":8,"x":399,"y":-1.2},{"s":8,"x":401,"y":-5.9},{"s":8,"x":403,"y":-1},{"s":8,"x":405,"y":0},{"s":8,"x":1024,"y":0},
{"s":8,"x":180,"y":2.1},{"s":8,"x":188,"y":-0.3},{"s":8,"x":196,"y":1.0},{"s":8,"x":204,"y":-1.5},{"s":8,"x":212,"y":1.3},{"s":8,"x":220,"y":-0.7},{"s":8,"x":228,"y":0.9},{"s":8,"x":236,"y":-1.8},{"s":8,"x":244,"y":2.3},{"s":8,"x":252,"y":-0.4},{"s":8,"x":260,"y":0.6},{"s":8,"x":268,"y":-2.0},{"s":8,"x":276,"y":1.5},{"s":8,"x":284,"y":0.1},{"s":8,"x":292,"y":-1.2},{"s":8,"x":300,"y":1.8},{"s":8,"x":308,"y":-0.9},{"s":8,"x":316,"y":0.5},{"s":8,"x":324,"y":-1.6},{"s":8,"x":332,"y":1.2},
{"s":9,"x":0,"y":0.6},{"s":9,"x":4,"y":-0.4},{"s":9,"x":8,"y":0.2},{"s":9,"x":14,"y":-0.8},{"s":9,"x":20,"y":-0.5},{"s":9,"x":26,"y":-1.0},{"s":9,"x":32,"y":-0.4},{"s":9,"x":38,"y":-0.9},{"s":9,"x":46,"y":-0.3},{"s":9,"x":56,"y":-0.7},{"s":9,"x":66,"y":-0.5},{"s":9,"x":76,"y":-0.9},{"s":9,"x":84,"y":-1.6},{"s":9,"x":90,"y":-2.4},{"s":9,"x":96,"y":-2.3},{"s":9,"x":104,"y":-1.9},{"s":9,"x":112,"y":-1.6},{"s":9,"x":120,"y":-1.4},{"s":9,"x":128,"y":-1.1},{"s":9,"x":136,"y":-1.2},{"s":9,"x":144,"y":-1.6},{"s":9,"x":152,"y":-2.3},{"s":9,"x":160,"y":-3.0},{"s":9,"x":166,"y":-3.4},{"s":9,"x":172,"y":-2.5},{"s":9,"x":178,"y":3},{"s":9,"x":184,"y":1.3},{"s":9,"x":192,"y":0.4},{"s":9,"x":200,"y":-1.7},{"s":9,"x":208,"y":1.9},{"s":9,"x":216,"y":-0.9},{"s":9,"x":224,"y":0.6},{"s":9,"x":232,"y":1.7},{"s":9,"x":240,"y":-1.4},{"s":9,"x":248,"y":0.3},{"s":9,"x":256,"y":1.8},{"s":9,"x":264,"y":-1.6},{"s":9,"x":272,"y":1.2},{"s":9,"x":280,"y":-0.7},{"s":9,"x":288,"y":0.9},{"s":9,"x":296,"y":-1.8},{"s":9,"x":304,"y":1.4},{"s":9,"x":312,"y":0.6},{"s":9,"x":320,"y":-1.5},{"s":9,"x":328,"y":0.8},{"s":9,"x":336,"y":0.5},{"s":9,"x":346,"y":0.3},{"s":9,"x":358,"y":-0.4},{"s":9,"x":370,"y":0},{"s":9,"x":382,"y":-0.3},{"s":9,"x":392,"y":-0.6},{"s":9,"x":402,"y":-0.9},{"s":9,"x":406,"y":-1.2},{"s":9,"x":409,"y":-15.8},{"s":9,"x":411,"y":-1},{"s":9,"x":413,"y":0},{"s":9,"x":1024,"y":0}
]
},
"vconcat":[
{"width":846,"height":259,
"title":{"text":"Support Vectors (Bad)","font":"Liberation Sans","fontSize":28,"fontWeight":"bold","color":"#000000","offset":-19},
"data":{"name":"bad"},
"layer":[
{"mark":{"type":"line","strokeWidth":1.5,"clip":true},
"encoding":{
"x":{"field":"x","type":"quantitative","scale":{"domain":[0,1200],"nice":false},"axis":{"values":[0,200,400,600,800,1000,1200],"title":"Normalized Time","labelPadding":26,"titlePadding":12}},
"y":{"field":"y","type":"quantitative","scale":{"domain":[-30,10],"nice":false},"axis":{"values":[-30,-20,-10,0,10],"title":"Normalized VCM Current","labelPadding":18,"titlePadding":12}},
"color":{"field":"s","type":"nominal","scale":{"domain":[1,2,3,4,5,6,7,8,9],"range":["#0072BD","#D95319","#EDB120","#7E2F8E","#77AC30","#4DBEEE","#A2142F","#0072BD","#D95319"]},"legend":null}}},
{"mark":{"type":"line","opacity":0},
"encoding":{
"x":{"field":"x","type":"quantitative","axis":{"orient":"top","labels":false,"title":null,"minExtent":0,"values":[0,200,400,600,800,1000,1200]}},
"y":{"field":"y","type":"quantitative","axis":{"orient":"right","labels":false,"title":null,"minExtent":0,"values":[-30,-20,-10,0,10]}}}}
],
"resolve":{"axis":{"x":"independent","y":"independent"}}},
{"width":846,"height":259,
"title":{"text":"Support Vectors (Good)","font":"Liberation Sans","fontSize":28,"fontWeight":"bold","color":"#000000","offset":-19},
"data":{"name":"good"},
"layer":[
{"mark":{"type":"line","strokeWidth":1.5,"clip":true},
"encoding":{
"x":{"field":"x","type":"quantitative","scale":{"domain":[0,1200],"nice":false},"axis":{"values":[0,200,400,600,800,1000,1200],"title":"Normalized Time","labelPadding":26,"titlePadding":12}},
"y":{"field":"y","type":"quantitative","scale":{"domain":[-30,10],"nice":false},"axis":{"values":[-30,-20,-10,0,10],"title":"Normalized VCM Current","labelPadding":18,"titlePadding":12}},
"color":{"field":"s","type":"nominal","scale":{"domain":[1,2,3,4,5,6,7,8,9],"range":["#0072BD","#D95319","#EDB120","#7E2F8E","#77AC30","#4DBEEE","#A2142F","#0072BD","#D95319"]},"legend":null}}},
{"mark":{"type":"line","opacity":0},
"encoding":{
"x":{"field":"x","type":"quantitative","axis":{"orient":"top","labels":false,"title":null,"minExtent":0,"values":[0,200,400,600,800,1000,1200]}},
"y":{"field":"y","type":"quantitative","axis":{"orient":"right","labels":false,"title":null,"minExtent":0,"values":[-30,-20,-10,0,10]}}}}
],
"resolve":{"axis":{"x":"independent","y":"independent"}}}
]
}
